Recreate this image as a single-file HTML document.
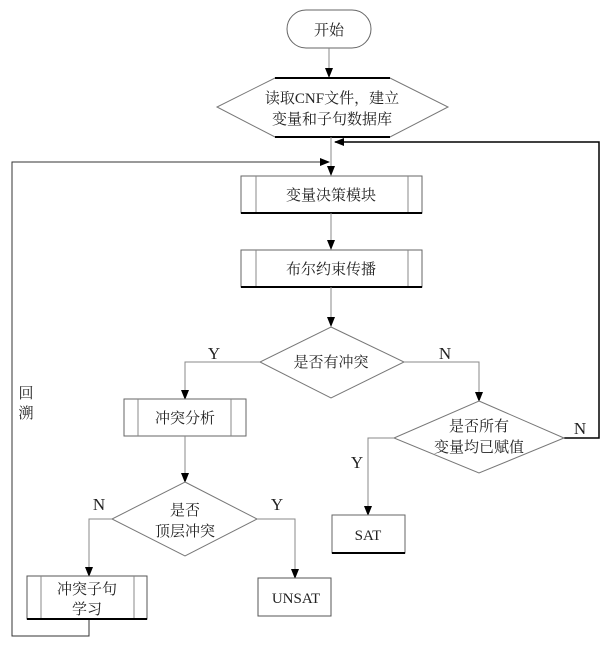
<!DOCTYPE html>
<html><head><meta charset="utf-8"><style>
html,body{margin:0;padding:0;background:#fff;}
svg text{font-family:"Liberation Serif","Noto Serif CJK SC",serif;font-size:15px;fill:#222;}
svg text.l{font-size:17px;}
</style></head><body>
<svg width="601" height="642" viewBox="0 0 601 642" xmlns="http://www.w3.org/2000/svg">
<defs><marker id="a" markerWidth="10" markerHeight="10" refX="9" refY="5" orient="auto" markerUnits="userSpaceOnUse"><path d="M0,1 L10,5 L0,9 Z" fill="#000"/></marker></defs>
<g fill="none" stroke="#888" stroke-width="1">
<rect x="287" y="10" width="84" height="38" rx="19" fill="#fff" stroke="#666"/>
<line x1="329" y1="48" x2="329" y2="77" marker-end="url(#a)"/>
<polygon points="275,78 390,78 448,107 390,137 275,137 217,107" fill="#fff" stroke="#777"/>
<line x1="275" y1="78" x2="390" y2="78" stroke="#000" stroke-width="2"/>
<line x1="275" y1="137" x2="390" y2="137" stroke="#000" stroke-width="2"/>
<line x1="331" y1="137" x2="331" y2="175" marker-end="url(#a)"/>
<polyline points="564,438 599,438 599,142 335,142" stroke="#000" stroke-width="1.5" marker-end="url(#a)"/>
<polyline points="89,619 89,636 12,636 12,162 329,162" stroke="#333" marker-end="url(#a)"/>
<rect x="241" y="176" width="181" height="37" fill="#fff" stroke="#666"/>
<line x1="256" y1="176" x2="256" y2="213"/><line x1="408" y1="176" x2="408" y2="213"/>
<line x1="241" y1="213" x2="422" y2="213" stroke="#000" stroke-width="2"/>
<line x1="331" y1="213" x2="331" y2="249" marker-end="url(#a)"/>
<rect x="241" y="250" width="181" height="37" fill="#fff" stroke="#666"/>
<line x1="256" y1="250" x2="256" y2="287"/><line x1="408" y1="250" x2="408" y2="287"/>
<line x1="241" y1="287" x2="422" y2="287" stroke="#000" stroke-width="2"/>
<line x1="331" y1="287" x2="331" y2="326" marker-end="url(#a)"/>
<polygon points="331,327 404,362 331,398 260,362" fill="#fff" stroke="#777"/>
<polyline points="260,362 185,362 185,399" marker-end="url(#a)"/>
<polyline points="404,362 479,362 479,401" marker-end="url(#a)"/>
<rect x="124" y="399" width="122" height="37" fill="#fff" stroke="#666"/>
<line x1="138" y1="399" x2="138" y2="436"/><line x1="231" y1="399" x2="231" y2="436"/>
<line x1="185" y1="436" x2="185" y2="482" marker-end="url(#a)"/>
<polygon points="479,401 564,438 479,473 394,438" fill="#fff" stroke="#777"/>
<polyline points="394,438 368,438 368,515" marker-end="url(#a)"/>
<rect x="332" y="515" width="73" height="38" fill="#fff" stroke="#666"/>
<line x1="332" y1="553" x2="405" y2="553" stroke="#000" stroke-width="2"/>
<polygon points="185,482 257,519 185,556 112,519" fill="#fff" stroke="#777"/>
<polyline points="112,519 89,519 89,576" marker-end="url(#a)"/>
<polyline points="257,519 295,519 295,578" marker-end="url(#a)"/>
<rect x="27" y="576" width="120" height="43" fill="#fff" stroke="#555"/>
<line x1="41" y1="576" x2="41" y2="619"/><line x1="134" y1="576" x2="134" y2="619"/>
<line x1="27" y1="619" x2="147" y2="619" stroke="#000" stroke-width="2"/>
<rect x="258" y="578" width="73" height="38" fill="#fff" stroke="#555"/>
</g>
<g text-anchor="middle">
<text x="329" y="35">开始</text>
<text x="332" y="103">读取CNF文件，建立</text>
<text x="332" y="124">变量和子句数据库</text>
<text x="331" y="200">变量决策模块</text>
<text x="331" y="274">布尔约束传播</text>
<text x="331" y="367">是否有冲突</text>
<text x="185" y="423">冲突分析</text>
<text x="479" y="431">是否所有</text>
<text x="479" y="452">变量均已赋值</text>
<text x="185" y="515">是否</text>
<text x="185" y="536">顶层冲突</text>
<text x="368" y="540">SAT</text>
<text x="87" y="594">冲突子句</text>
<text x="87" y="614">学习</text>
<text x="296" y="603">UNSAT</text>
<text class="l" x="214" y="359">Y</text>
<text class="l" x="445" y="359">N</text>
<text class="l" x="580" y="434">N</text>
<text class="l" x="357" y="468">Y</text>
<text class="l" x="99" y="510">N</text>
<text class="l" x="277" y="510">Y</text>
<text x="26" y="398">回</text>
<text x="26" y="418">溯</text>
</g>
</svg>
</body></html>
